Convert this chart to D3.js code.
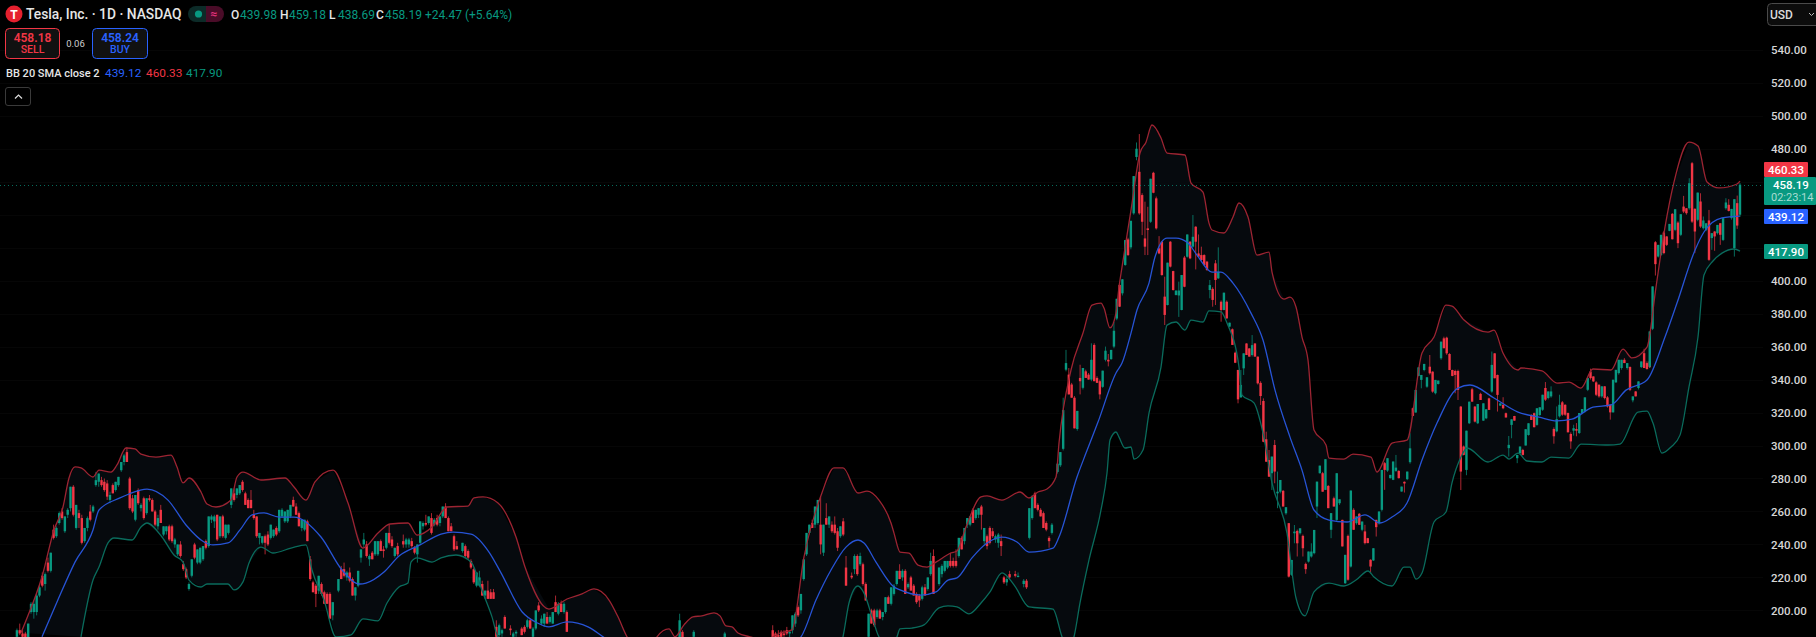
<!DOCTYPE html>
<html><head><meta charset="utf-8">
<style>html,body{margin:0;padding:0;background:#000;overflow:hidden}svg{display:block}text{font-family:Roboto,"Noto Sans",sans-serif}</style>
<script src="https://cdn.jsdelivr.net/npm/d3@7/dist/d3.min.js"></script>
</head><body><svg id="c" width="1816" height="637"></svg>
<script>
// Bollinger bands: session index and price
const upperIdx=[7,9,14,18,21,23,25,27,31,33,37,39,42,45,47,52,57,59,61,63,67,69,72,77,79,81,87,95,98,102,105,111,116,121,126,130,136,139,144,149,156,158,161,166,172,175,183,189,194,198,203,206,209,213,218,219,223,225,228,231,234,238,240,242,244,246,250,255,260,264,268,274,278,281,286,289,293,297,298,300,303,306,309,312,317,319,322,327,329,334,340,343,346,349,352,353,357,361,364,367,368,370,372,373,374,377,380,382,384,387,389,395,397,401,403,404,408,411,413,416,419,423,424,428,430,432,434,436,438,442,443,448,451,457,459,464,469,474,478,482,484,488,496,498,501,506,507,514,519,523,527,531,537,541,544,549,552,555,558,563,566,569,573,579,580];
const upperVal=[186.4,195.4,220.4,248.8,262.7,280.3,287,286.4,280.9,285.1,283.9,288.2,298.5,297.9,294.8,293,294.2,287,277.3,280.3,271.8,264.5,262.7,266.9,280.9,283.9,279.1,280.3,274.8,266.9,277.9,285.1,265.1,237.8,246.9,252.4,253,245.7,250.6,262.7,263.3,268.2,268.8,265.1,244.5,226.3,200.8,206.9,210,213,206.3,196.1,184,176,179,184,188.8,184,191.2,196.1,196.7,198.5,196.7,190.6,190,186.3,184,182,186.3,188.2,232.5,271.4,286.4,286.4,271.2,272.4,266.9,253,246.9,235.4,234.8,227.5,226.3,229.3,234.8,236,250.6,268.8,269.4,266.9,271.8,268.2,271.8,273.6,280.9,301.5,345.8,368.2,385.2,386.4,383.4,371.3,380.3,396.1,408.2,442.8,477.4,484,494.4,486.5,477.4,476.2,459.2,453.7,434.9,430.7,428.9,438.6,447.1,438.6,415.5,417.3,405.2,388.8,390,384,365.8,351.8,309.4,300.3,292.4,291.8,294.8,293,283.9,301.5,303.3,356.1,365.8,385.2,384.6,376.1,368.8,370,356.1,345.8,347,345.2,337.9,338.5,334.8,346.4,345.8,358.5,353.1,359.7,396.1,432.5,459.8,484,481.6,459.8,456.2,458.6,460.33];
const basisIdx=[14,19,25,31,33,40,43,49,56,62,68,71,76,80,84,88,93,98,107,114,120,122,128,133,140,147,151,157,163,167,174,179,183,189,196,201,210,225,240,255,267,272,277,282,286,288,292,298,300,307,312,316,319,324,329,334,339,343,351,353,359,362,366,372,374,377,379,383,385,389,392,396,399,404,407,411,417,421,425,430,434,438,443,449,455,460,464,469,474,479,486,490,498,506,513,519,524,531,537,542,549,555,559,565,568,574,580];
const basisVal=[184,205.1,229.3,248.8,260.9,268.2,270.6,273.6,266.9,251.8,241.5,239.7,240.9,248.8,257.9,259.1,256.6,256.6,244.5,224.5,216,216.6,223.3,233,239.7,246.3,247.5,246.3,235.4,222.8,199.2,192.5,190,193,190,184,172,165,165,170,184,206.3,224.5,238.4,242.7,240.9,229.3,214.2,212.4,209.3,211.2,218.4,219.7,231.9,240.9,244.5,241.5,235.4,237.8,244.5,280.9,295.4,314.2,344,350,368.2,382.2,398.5,414.3,425.8,425.8,422.8,415.5,405.2,405.2,398.5,380.3,364,333.6,305.1,285.1,260.9,254.8,253.6,257.9,253,256.6,265.1,291.2,313.6,334.8,336.7,328.8,320.3,317.2,314.9,316,323.3,324.6,333.6,339.7,365.8,386.4,418.5,429.5,438,439.12];
const lowerIdx=[27,31,33,36,38,44,47,49,54,58,61,63,67,69,76,78,81,83,87,91,97,102,104,108,112,117,121,126,129,133,136,137,139,144,147,152,157,161,164,166,185,200,230,260,275,281,283,286,288,291,293,297,299,300,304,308,313,316,319,323,327,330,334,338,343,351,354,356,358,360,363,367,369,370,372,373,375,377,378,381,383,387,389,392,395,397,401,403,407,409,413,414,418,421,424,429,432,435,438,443,448,452,456,458,464,468,470,472,474,478,482,484,487,489,496,501,503,506,509,514,517,523,527,536,540,546,549,551,554,557,560,563,566,568,571,574,578,580];
const lowerVal=[184,218.4,226.3,240.9,243.9,242.7,250.6,253,244.5,233.6,229.3,218.4,214.2,216,216,212.4,217.3,228.7,238.4,234.8,237.8,239.7,224.5,206.3,184,185.2,194.9,193.7,204.5,214.2,216.6,229.3,231.9,229.3,231.9,233.6,229.3,210.5,196.1,184,165,145,135,135,160,184,204.5,214.8,210.5,194.3,184,179,184,188.8,189.3,191.2,201.5,202.7,202.1,197.9,204.5,211.2,222.8,215.5,202.1,200.8,184,176,184,204.5,230.6,260.9,283.3,303.3,308.2,305.1,298.5,299.1,291.8,297.3,319.7,347.6,373,374.9,370,376.1,374.9,381.6,381,374.3,347.6,330.6,325.8,307.6,277.3,246.9,207.5,196.7,211.2,216.6,214.8,218.4,223.9,220.2,214.8,226.3,226.3,219,222.7,253.6,259.7,277.3,293,298.5,290,294.2,291.8,295.4,290.6,290,293,292.4,300.9,300.3,300.9,320.3,320.9,313.6,295.4,299.1,306.3,335.5,365.8,403.4,411.9,416.7,419.2,417.9];

// Daily bars [open, high, low, close] in consecutive runs; null = no bar drawn
const run006=[[184,189,183,188],[188,192,185,186],[186,188,183,184],[186,187,180,182],[182,192,180,192],[199,205,198,204],[199,206,195,204],[199,210,197,209],[209,216,208,214],[221,223,214,215],[216,223,212,222],[229,232,223,224],[224,235,223,235],[249,252,243,244],[245,251,244,250],[253,260,252,259],[260,262,255,256],[248,257,247,257],[258,262,256,261],[262,275,260,275],[275,276,257,258],[250,264,249,264],[259,261,250,256],[256,258,240,241],[242,250,241,250],[250,257,248,256],[260,264,254,255],[260,264,259,263],[276,284,275,279],[278,283,275,283],[279,281,275,276],[278,280,272,273],[277,279,267,269],[267,272,265,270],[276,277,271,271],[273,278,272,278],[276,281,275,281],[285,290,284,290],[290,295,288,294],[296,299,290,290],[280,281,261,262],[268,270,259,260],[255,270,254,270],[273,274,264,265],[262,265,260,264],[268,269,255,256],[259,268,258,268],[268,270,266,267],[267,268,260,260],[260,261,251,252],[251,258,249,256],[261,264,253,253],[246,251,245,251],[248,251,246,251],[251,252,242,243],[251,252,241,242],[240,244,238,243],[234,240,233,240],[240,242,232,233],[228,230,224,225],[225,226,219,220],[213,217,212,216],[221,231,220,231],[240,241,231,232],[229,237,228,237],[229,238,228,238],[231,239,230,239],[242,243,237,238],[239,257,238,257],[255,258,253,257],[254,258,250,257],[258,258,242,243],[245,257,244,257],[257,258,244,245],[244,252,243,252],[247,252,246,252],[264,274,262,274],[271,274,266,267],[270,274,268,274],[271,276,270,276],[278,279,272,273],[271,272,264,264],[267,268,262,262],[267,273,262,262],[258,261,255,256],[257,257,244,245],[244,247,240,247],[241,245,240,245],[245,246,234,241],[246,248,239,240],[244,252,243,252],[245,249,244,249],[250,251,245,246],[248,261,247,261],[257,262,256,261],[254,260,253,260],[254,261,253,261],[257,264,256,264],[267,269,263,263],[263,265,258,258],[259,260,251,251],[250,255,248,255],[249,255,248,255],[254,255,242,242],[231,233,218,219],[217,218,211,211],[215,216,202,210],[212,221,210,221],[216,217,209,210],[211,212,204,204],[210,211,204,204],[210,211,195,195],[197,205,194,205]];
const run120=[[212,219,211,219],[225,227,219,219],[225,229,220,221],[220,224,218,223],[223,226,217,218],[219,220,209,209],[209,214,206,214],[215,224,214,224],[232,237,229,237],[240,247,238,243],[240,242,232,233],[231,234,227,233],[235,236,231,231],[234,242,233,242],[234,242,233,242],[242,243,236,236],[237,239,232,236],[238,247,237,247],[247,252,240,241],[243,245,238,239],[233,238,232,238],[239,241,233,234]];
const run143=[[242,246,238,240],[240,244,238,243],[240,244,238,243],[242,244,238,239],[238,239,234,235],[234,240,229,240],[241,254,240,254],[251,254,249,253],[253,258,251,252],[253,257,252,257],[256,259,246,247],[252,256,251,255],[256,258,251,252],[253,257,251,257],[257,263,256,263],[263,265,256,256],[256,257,248,248],[251,253,248,248],[245,246,236,237],[239,242,237,237],null,[236,241,235,241],[239,240,232,233],[236,237,231,232],[230,231,225,226],[225,226,216,217],[215,223,214,223],[215,224,214,220],[216,218,209,209],[209,212,207,212],[212,218,207,207],[211,213,207,207],[211,213,207,207]];
const run176=[[190,194,184,184],[185,192,184,191],[186,189,184,188],[196,197,189,189],null,[189,191,185,188],[184,187,182,186],[186,188,184,187],null,[189,190,185,185],[190,191,186,187],[190,195,189,194],[194,195,189,189],[184,190,183,189],[189,200,188,200],[203,205,199,200],[192,197,191,195],[192,198,190,198],[196,199,192,192],[193,197,192,196],[192,199,192,199],[205,209,199,199],[198,205,197,204],[204,206,199,199],[199,205,198,204],[199,200,187,187]];
const run241=[[182,198,180,194],[187,188,180,182]];
const run246=[[184,188,180,187]];
const run257=[[180,187,178,186]];
const run274=[[188,191,180,182],[186,187,180,183],[185,188,181,184],[187,188,183,184],[186,188,184,185],[188,190,185,186],[186,188,183,187],[188,197,186,197],[192,199,190,198],[202,203,196,197],[200,210,198,210],[219,231,218,231],[234,247,233,247],[247,252,246,252],[253,255,250,250],[252,263,250,263],[253,267,252,267],[252,269,234,240],[235,252,233,252],[256,265,252,252],[252,257,250,257],[252,254,247,248],[252,257,246,247],[248,250,236,238],[245,251,244,251],[254,256,245,246],[226,233,215,215],null,[221,223,219,220],[225,234,222,233],[233,234,221,222],[228,235,227,233],[228,229,215,216],[216,217,206,206],[184,198,175,198],[200,201,192,192],[200,201,190,191],[196,201,195,200],[200,201,195,195],[196,199,194,199],[199,208,198,208],[208,209,204,204],[204,214,203,214],[210,216,209,215],[216,224,215,224],[224,228,219,219],[220,225,218,224],[224,225,210,210],[214,217,213,216],[220,221,212,212],[215,216,209,209],[210,211,204,205],[209,210,202,206],[207,215,206,214],[214,216,209,209],[213,220,212,220],[222,235,221,230],[233,237,210,210],null,[216,226,215,226],[222,228,220,227],[224,230,223,230],[226,230,225,230],[230,235,226,227],[230,232,226,227],[230,237,226,227],[233,244,232,244],[244,245,237,237],[242,250,240,250],[252,256,250,256],[252,257,251,257],[261,262,253,253],[256,261,255,261],[258,262,256,262],[263,264,249,258],[242,250,240,250],[245,246,237,239],[250,251,240,241],[248,250,244,245],[243,246,241,245],[241,247,238,246],[242,246,233,239],[220,221,216,217],[217,220,215,219],[222,224,219,220],null,[222,224,220,221],[221,223,220,221],null,[216,219,214,218],[218,219,213,214],[244,262,243,262],[256,270,255,269],[271,272,262,262],[264,265,260,261],[261,262,257,257],[259,260,250,250],[253,254,248,249],[244,245,238,242],[247,253,246,252]];
const run375=[[284,289,283,289],[288,296,287,296],[298,329,297,321.5],[346,358,345,350],[343,347,331,331],[337,338,329,329],[329,330,310.4,310.4],[310,321,309,321],[341,349,331,339],[335,347,334,347],[345,346,341,341],[343,344,340,340],[340,362,339,352],[361,362,339,339],[341,342,338,338],[339,340,328,331],[335.6,345.4,335,345.4],[352,360,351,357.5],[352,355.5,348,351],[352.4,358,352,358],[360,375,359,369.6],[377,389,376,389]];
const run397=[[397.4,398,384,384.2],[392.3,401,391,400.8],[409.5,424.6,409,424.6],[425,426,415,415.5],[420.2,436.3,419,436.3],[440.8,463.4,440,463.4],[475,483.8,473,480],[466,488.9,440,440.8],[451.9,453,427.6,435.7],[425.6,447.9,415.5,420.6],[431.7,444.8,415.5,430.7],[435.7,461.8,435,461.8],[465.4,466,453,453.3],[449.9,451,431,431.7],[419.6,427,416,416.5],[423.6,424,403,403.4],[390.3,402.4,373.1,379.2],[385.2,410.9,385,410.9],[423.6,424,408,408.5],[405.8,406,394,394.3],[391.3,394,391,394],[391,399.4,378,394],[382.2,403.4,382,403.4],[414,415,396,396.3],[414.5,428,414,428],[423.6,424,413,413.5],[420.6,439.8,420,426.6],[432.7,433,406.8,423.6],[416.5,428,414,414.5],[415.5,420.6,412,412.5],[415.5,416,409,409.5],[411.5,412,406,406.4],[394.3,400.4,389.3,397.3],[395,396,384.2,388.3],[410.5,412.5,385.2,400.4],[401.4,420.2,401,405.4],[387.2,388,375.1,382.2],[382.2,392.7,382,392.7],[387.2,388,377,377.1],[372.1,374.5,372,374.5],[370.5,371,361,361],[356.3,357,350,350.2],[345.8,346,325.6,328],[329.2,345.8,329,336.7],[346.8,355.9,342.8,355.9],[361.9,362,355,354.9],[358.9,359,354,353.9],[354.9,367,354,360.9],[361.9,362,354,353.9],[353.9,354,337,337.7],[338,339,324.6,330],[327,328.6,302,302.3],[303.8,308.4,290,290.2],[291.2,297.3,281,281.1],[283.2,293.3,273,293.3],[300.3,303.4,277.1,284.2],[271,284.2,262,272],[272,279.1,271,279.1],[272.5,273,263,263],[258.9,262.6,258,262.6],[252.9,253,220,220.5],[221.6,230.6,221,230.6],[246.8,251.8,240.7,247.8],[248.2,249,232.7,240.7],[246.8,249.8,246,249.8],[245.2,246,232.7,237.7],[228.2,229,222.2,225],[229.6,235.7,229,235.7],[232.7,240.7,232,235.7],[234.7,248.8,234,248.8]];
const run467=[[263,278.1,256,278.1],[283.2,287.8,283,287.8],[283.2,284,272,272],[273.1,291.7,273,291.7],[275.5,276,262,262],[248.9,259,243.8,259],[268,269,263,263],[254.9,283.2,254,283.2],[265,267.4,264,267.4],[254.9,255,238.8,238.8],[216.5,233.7,216,233.7],[245.2,246,218,218.6],[226.6,272.7,226,272.7],[261,262,248.9,248.9],[252.9,257,252,257],[258.6,259,251.9,251.9],[248.9,253.9,248,253.9],[247.9,251.9,240,240.8],[243.8,244,240.8,240.8],[230.7,231,222.6,226.6],[230.3,237.7,230,237.7],[254.9,255,244.8,250.5],[252.9,260,252,260],[261,285.2,260,285.2],[289.3,290,273.1,285.2],[284.8,292.3,284,292.3],[280.2,282.2,280,282.2],[279.2,290.3,279,290.3],[284.6,294.3,284,286.6],[284.6,285,280,280.2],[272.1,275.1,272,275.1],[278,278.2,271.5,277],[279.6,284.2,279,284.2],[289.9,307.4,289,298.3],[322.6,323,318,318],[320,333.7,320,333.7],[342.2,347.4,342,347.4],[339.8,342.8,334.7,342.8],[345.8,349.5,345,349.5],[335.7,341.4,335,341.4],[347.8,354.9,343,343.8],[344.8,345,332,332.7],[331.7,339.8,331,339.8],[337.3,339.4,337,339.4],[352.9,363,352,363],[365,366,359,359],[365.4,366,355,355.9],[355.5,356,345.8,345.8],[345.8,346,342,342.2],[345.2,346,331.7,342.8],[345.2,346,327.6,333.7],[323.6,324,273,284.2],[299.4,300,294,294.3],[285.2,309,282,309],[313.5,326.6,313,326.6],[334.1,335,326.6,326.6],[323.6,324,314,314.5],[313.5,325.2,313,325.2],[331.3,332,327.6,327.6],[315.1,325.6,315,325.6],[316.5,322,316,322],[328.6,329,321.6,321.6],[332.7,357,332,348.9],[355.9,356,340.8,340.8],[342.8,343,320.6,330.7],[324.2,325.6,324,325.6],[324.6,329.3,322,322.6],[319.6,320,317,317],[298.4,305.8,293.3,300.4],[312.5,315.9,304.4,315.9],[317.9,318,315,315.1],[292.3,294.3,289.3,294.3],[295.3,299.4,295,299.4],[297.3,298,294,294.3],[300,309.9,300,309.9],[306.4,313.5,306,313.5],[318.5,319,315.5,315.5],[319.6,320,311,311.1],[312.5,322.6,312,322.6],[318.5,323.2,318,323.2]];
const run547=[[321.7,330.8,321,330.8],[334.9,338.5,327,327.8],[328.8,332.8,328,332.8],[329.8,335.9,329,332.8],[310,311,301.1,305.6],[308.6,323.7,308,316],[317.7,330.8,317,324.7],[326.2,327,318,318.7],[324.7,325,318,318.7],[319.7,320,308,308],[307,308,298,302.5],[309,312.6,306,310.5],[310,313.6,305.6,309],[307.6,319.7,307,319.7],[319.7,322.1,319,322.1],[320.7,329.2,320,329.2],[333.8,340.9,333,340.9],[344.9,346.6,340,340.9],[341.9,342,338.5,338.9],[338.3,339,330,330.8],[336.9,337,329,329.8],[329.8,335.9,329,335.9],[335.9,336,328,328.8],[329.2,330,323,323.7],[324.7,325,315.7,320.1],[320.1,339.9,320,339.9],[338.3,345.9,338,345.9],[343.9,352,343,352],[347,352,346,352],[352,353,350,350],[347,350,346,350],[347.6,348,333,333.8],[327.4,329.8,326.2,329.8],[332.8,333,329.8,329.8],[334.9,338.9,334,338.9],[347.6,351,347,351],[356,358.7,347,347],[350,351,346,346.4],[351,352,347,347.6]];
const run585=[[348,369.2,347,369.2],[370.8,396.5,370,396.5],[423.3,424,403.1,410],[414.6,421.7,414,421.7],[415.6,427.8,415,427.8],[429.2,430,416,416.7],[426.8,427,421,421.7],[430.2,434.4,430,434.4],[440.5,441,425,425.1],[430.8,443.3,430,443.3],[435.2,436,419.7,422.7],[427.8,440.3,427,440.3],[444.9,451.4,441,441.9],[443.9,444,440,440.9],[443.9,462.1,443,459.1],[471.2,472,435,435.8],[443.5,444,416.7,429.8],[436.9,453.4,436,453.4],[448,453,432,432.8],[431.8,438.9,431,436.5],[430.8,434.8,430,434.8],[436.5,442.9,412,412.6],[425.8,428.8,418.7,428.8],[429.8,430,418.1,426.8],[428.8,433.8,428,433.8],[434.8,435,421.7,427.8],[424.7,437.9,424,437.9],[443.9,450,443,447.4],[446,449.4,442,442.3],[437.9,443.5,437,443.5],[419.7,449.4,414.6,449.4],[447,451.6,431.4,433.4],[439.98,459.18,438.69,458.19]];
const barRuns=[[6,run006],[120,run120],[143,run143],[176,run176],[241,run241],[246,run246],[257,run257],[274,run274],[375,run375],[397,run397],[467,run467],[547,run547],[585,run585]];

// Price axis and readouts
const tickLabels=[540,520,500,480,400,380,360,340,320,300,280,260,240,220,200];
const lastClose=458.19, bbBasis=439.12, bbUpper=460.33, bbLower=417.90;
const legendOHLC=[["O","439.98"],["H","459.18"],["L","438.69"],["C","458.19"]];

const W=1816,H=637,PLOT=1763;
const UP="#089981",DOWN="#f23645";
const svg=d3.select("#c");
svg.append("rect").attr("width",W).attr("height",H).attr("fill","#000");
const y=d3.scaleLinear().domain([200,540]).range([610.4,49.8]);
const xBand=d3.scaleLinear().domain([0,580]).range([0,1740]);
const xBar=d3.scaleLinear().domain([0,617]).range([0,1740]);
svg.append("defs").append("clipPath").attr("id","plot").append("rect").attr("width",PLOT).attr("height",H);

const plot=svg.append("g").attr("clip-path","url(#plot)");
plot.append("g").selectAll("line").data(tickLabels.concat([460,440,420])).join("line")
 .attr("x1",0).attr("x2",PLOT).attr("y1",d=>Math.round(y(d))+.5).attr("y2",d=>Math.round(y(d))+.5)
 .attr("stroke","#060606");

const upperPts=upperIdx.map((d,i)=>[xBand(d),y(upperVal[i])]);
const basisPts=basisIdx.map((d,i)=>[xBand(d),y(basisVal[i])]);
const lowerPts=lowerIdx.map((d,i)=>[xBand(d),y(lowerVal[i])]);
const curve=d3.line().curve(d3.curveMonotoneX);
plot.append("path").attr("d",d3.line()(upperPts.concat(lowerPts.slice().reverse()))+"Z").attr("fill","#060a0e");

const bars=[];
barRuns.forEach(([s,rows])=>rows.forEach((r,i)=>{if(r)bars.push({k:s+i,o:r[0],h:r[1],l:r[2],c:r[3]});}));
const g=plot.append("g");
const sel=g.selectAll("g").data(bars).join("g").attr("fill",d=>d.c>=d.o?UP:DOWN);
sel.append("rect").attr("x",d=>xBar(d.k)-.5).attr("width",1)
 .attr("y",d=>y(d.h)).attr("height",d=>Math.max(1,y(d.l)-y(d.h))).attr("fill-opacity",.7);
sel.append("rect").attr("x",d=>xBar(d.k)-1.2).attr("width",2.4)
 .attr("y",d=>Math.min(y(d.o),y(d.c))).attr("height",d=>Math.max(1.2,Math.abs(y(d.o)-y(d.c))));

plot.append("path").attr("d",curve(upperPts)).attr("fill","none").attr("stroke","#9c2432").attr("stroke-width",1.3);
plot.append("path").attr("d",curve(lowerPts)).attr("fill","none").attr("stroke","#0a6b5c").attr("stroke-width",1.3);
plot.append("path").attr("d",curve(basisPts)).attr("fill","none").attr("stroke","#2754d6").attr("stroke-width",1.3);

svg.append("line").attr("x1",0).attr("x2",PLOT).attr("y1",Math.round(y(lastClose))+.5).attr("y2",Math.round(y(lastClose))+.5)
 .attr("stroke",UP).attr("stroke-opacity",.7).attr("stroke-dasharray","1 3");

// axis
const axis=d3.axisRight(y).tickValues(tickLabels).tickSize(0).tickPadding(0).tickFormat(d3.format(".2f"));
const ax=svg.append("g").attr("transform","translate(1771,0)").call(axis);
ax.select(".domain").remove();
ax.selectAll("text").attr("fill","#d5d5d5").attr("font-size",11.5).attr("font-weight",500).attr("font-family","Roboto");

function txt(x,yy,s,fill,size,weight,anchor){
 return svg.append("text").attr("x",x).attr("y",yy).text(s).attr("fill",fill).attr("font-size",size||12)
  .attr("font-weight",weight||400).attr("text-anchor",anchor||"start");
}
function badge(x,yy,w,h,fill){svg.append("rect").attr("x",x).attr("y",yy).attr("width",w).attr("height",h).attr("fill",fill).attr("rx",1);}

badge(1764,162,44,15,DOWN); txt(1786,174,d3.format(".2f")(bbUpper),"#fff",11.5,500,"middle");
badge(1764,177,52,28,UP); txt(1773,189,d3.format(".2f")(lastClose),"#fff",11.5,500);
txt(1771,201,"02:23:14","#a9dcd2",11,400);
badge(1764,209,44,15,"#2962ff"); txt(1786,221,d3.format(".2f")(bbBasis),"#fff",11.5,500,"middle");
badge(1764,244,44,15,UP); txt(1786,256,d3.format(".2f")(bbLower),"#fff",11.5,500,"middle");

// USD button
svg.append("rect").attr("x",1767.5).attr("y",3.5).attr("width",60).attr("height",22).attr("rx",4).attr("fill","#0c0c0c").attr("stroke","#4a4a4a");
txt(1770,19,"USD","#dbdbdb",12,500);
svg.append("path").attr("d","M1809 13l2.5 2.5l2.5-2.5").attr("fill","none").attr("stroke","#bbb");

// legend header
svg.append("circle").attr("cx",14).attr("cy",14).attr("r",8.5).attr("fill","#e5202e");
txt(14,18.5,"T","#fff",12,700,"middle");
txt(26,19,"Tesla, Inc. · 1D · NASDAQ","#e6e6e6",13.8,500);
svg.append("path").attr("d","M196 6h10v16h-10a8 8 0 0 1 0-16Z").attr("fill","#0c2b28");
svg.append("path").attr("d","M206 6h10a8 8 0 0 1 0 16h-10Z").attr("fill","#4a0c28");
svg.append("circle").attr("cx",198.5).attr("cy",14).attr("r",3.6).attr("fill",UP);
txt(214,18,"≈","#e0307a",12,700,"middle");
const ohlcX=[231,280,329,376];
legendOHLC.forEach((d,i)=>{txt(ohlcX[i],19,d[0],"#e6e6e6",12,500);txt(ohlcX[i]+9,19,d[1],UP,12,400);});
txt(425,19,"+24.47 (+5.64%)",UP,12,400);

// sell/buy
svg.append("rect").attr("x",5.5).attr("y",28.5).attr("width",54).attr("height",30).attr("rx",4).attr("fill","#111").attr("stroke",DOWN);
txt(32.5,42,"458.18",DOWN,12,600,"middle"); txt(32.5,53,"SELL",DOWN,10.5,500,"middle");
txt(75.5,47,"0.06","#cfcfcf",9.5,400,"middle");
svg.append("rect").attr("x",92.5).attr("y",28.5).attr("width",55).attr("height",30).attr("rx",4).attr("fill","#111").attr("stroke","#2962ff");
txt(120,42,"458.24","#2962ff",12,600,"middle"); txt(120,53,"BUY","#2962ff",10.5,500,"middle");

// indicator legend
txt(6,77,"BB 20 SMA close 2","#e6e6e6",11,500);
txt(105,77,d3.format(".2f")(bbBasis),"#2962ff",11.8,400);
txt(146,77,d3.format(".2f")(bbUpper),DOWN,11.8,400);
txt(186,77,d3.format(".2f")(bbLower),UP,11.8,400);
svg.append("rect").attr("x",5.5).attr("y",87.5).attr("width",25).attr("height",18).attr("rx",2.5).attr("fill","none").attr("stroke","#3a3a3a");
svg.append("path").attr("d","M15 98.5l3.5-3.5l3.5 3.5").attr("fill","none").attr("stroke","#ddd").attr("stroke-width",1.2);
</script></body></html>
